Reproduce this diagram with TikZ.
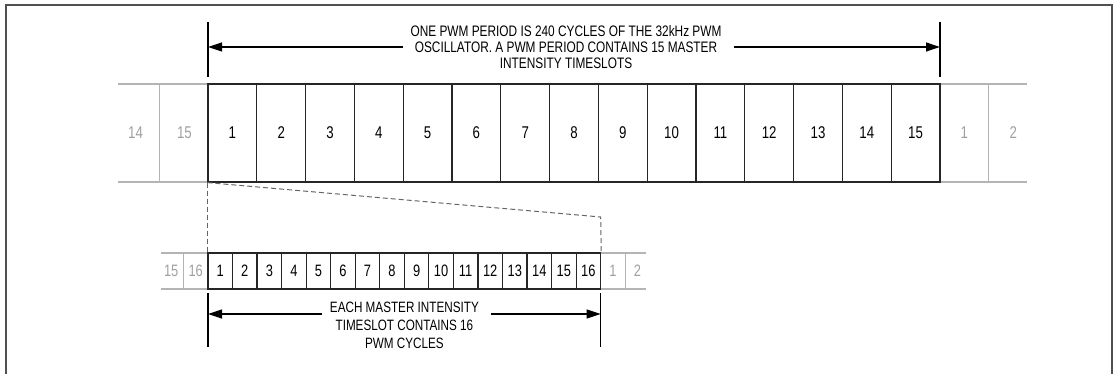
\documentclass[tikz,border=0pt]{standalone}
\usepackage{fontspec}
\setmainfont{Liberation Sans}[FakeStretch=0.78]
\usetikzlibrary{arrows.meta}
\definecolor{lgray}{HTML}{B4B4B4}
\definecolor{tgray}{HTML}{A0A0A0}
\definecolor{frameC}{HTML}{505050}
\begin{document}
\begin{tikzpicture}[x=1pt,y=-1pt,
  cellline/.style={line width=1.2pt,draw=black!85},
  grayline/.style={line width=1.2pt,draw=lgray},
  topcell/.style={cellline,minimum width=48.8pt,minimum height=98pt,inner sep=0pt,font=\fontsize{17}{17}\selectfont},
  topgray/.style={inner sep=0pt,text=tgray,font=\fontsize{17}{17}\selectfont},
  botcell/.style={cellline,minimum width=24.54pt,minimum height=36pt,inner sep=0pt,font=\fontsize{16.5}{16.5}\selectfont},
  botgray/.style={inner sep=0pt,text=tgray,font=\fontsize{16.5}{16.5}\selectfont},
  tick/.style={line width=1.2pt,draw=black},
  dimarrow/.style={line width=1.2pt,draw=black,-{Triangle[length=14pt,width=9pt]}},
  zoomline/.style={line width=1pt,draw=black!60,dash pattern=on 5pt off 3pt},
  note/.style={align=center,inner sep=0pt}
]
\useasboundingbox (0,0) rectangle (1118,374);
% frame
\draw[line width=2pt,draw=frameC] (6,380) -- (6,5) -- (1112,5) -- (1112,380);

% ---- top row ----
\draw[grayline] (118,84) -- (1027,84);
\draw[grayline] (118,182) -- (1027,182);
\draw[grayline] (159.2,84) -- (159.2,182);
\draw[grayline] (988.8,84) -- (988.8,182);
\node[topgray] (tg14) at (135.6,133) {14};
\node[topgray] (tg15) at (184.4,133) {15};
\node[topgray] (tg1) at (964.4,133) {1};
\node[topgray] (tg2) at (1013.2,133) {2};
\foreach \i in {1,...,15}
  \node[topcell] (t\i) at ({208+48.8*(\i-0.5)},133) {\i};

% top dimension
\coordinate (tlA) at (208,22);
\coordinate (tlB) at (208,77);
\coordinate (trA) at (940,22);
\coordinate (trB) at (940,77);
\draw[tick] (tlA) -- (tlB);
\draw[tick] (trA) -- (trB);
\coordinate (tl) at (208,47);
\coordinate (tr) at (940,47);
\node[note,font=\fontsize{15.2}{16}\selectfont] (toptext) at (566,47)
  {ONE PWM PERIOD IS 240 CYCLES OF THE 32kHz PWM\\
   OSCILLATOR. A PWM PERIOD CONTAINS 15 MASTER\\
   INTENSITY TIMESLOTS};
\draw[dimarrow] ([xshift=-7pt]toptext.west |- tl) -- (tl);
\draw[dimarrow] ([xshift=12pt]toptext.east |- tr) -- (tr);

% ---- bottom row ----
\draw[grayline] (161.4,253) -- (646,253);
\draw[grayline] (161.4,289) -- (646,289);
\draw[grayline] (183.46,253) -- (183.46,289);
\draw[grayline] (625.2,253) -- (625.2,289);
\node[botgray] (bg15) at (171.2,271) {15};
\node[botgray] (bg16) at (195.7,271) {16};
\node[botgray] (bg1) at (613,271) {1};
\node[botgray] (bg2) at (637.5,271) {2};
\foreach \i in {1,...,16}
  \node[botcell] (b\i) at ({208+24.54*(\i-0.5)},271) {\i};

% zoom lines
\coordinate (zc) at (600.7,217);
\draw[zoomline] (t1.south west) -- (zc) -- (b16.north east);
\draw[zoomline] (t1.south west) -- (b1.north west);

% bottom dimension
\coordinate (blA) at (208,293);
\coordinate (blB) at (208,347);
\coordinate (brA) at (600.7,293);
\coordinate (brB) at (600.7,347);
\draw[tick] (blA) -- (blB);
\draw[tick] (brA) -- (brB);
\coordinate (bl) at (208,314);
\coordinate (br) at (600.7,314);
\node[note,font=\fontsize{15}{18}\selectfont] (bottext) at (404.4,325)
  {EACH MASTER INTENSITY\\
   TIMESLOT CONTAINS 16\\
   PWM CYCLES};
\draw[dimarrow] ([xshift=-8pt]bottext.west |- bl) -- (bl);
\draw[dimarrow] ([xshift=12pt]bottext.east |- br) -- (br);
\end{tikzpicture}
\end{document}
